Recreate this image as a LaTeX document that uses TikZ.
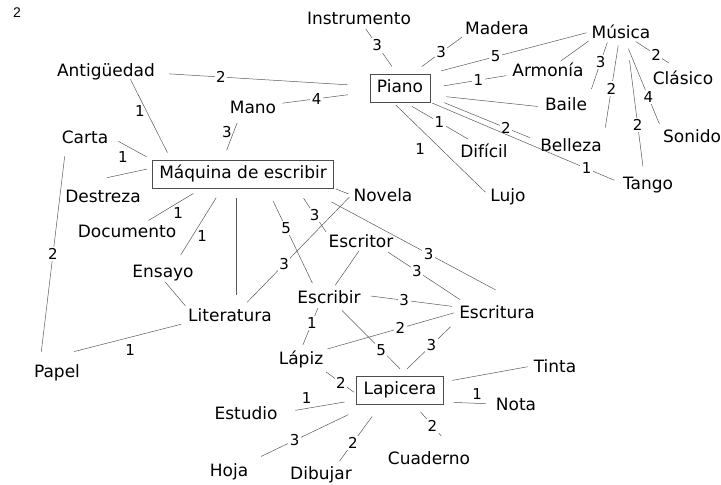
\documentclass[tikz,border=0pt]{standalone}
\usepackage{fontspec}
\newfontfamily\mapfont{DejaVu Sans}
\newfontfamily\pagefont{Liberation Sans}

\begin{document}
\begin{tikzpicture}[x=1pt,y=-1pt,
  concept/.style={font=\mapfont\fontsize{17}{20}\selectfont,inner sep=2pt,text height=12.5pt,text depth=0pt},
  box/.style={concept,draw=black!70,line width=.6pt,text depth=3pt,minimum height=28pt,inner xsep=7pt},
  link/.style={draw=black!65,line width=.5pt,shorten <=4pt,shorten >=4pt},
  num/.style={font=\mapfont\fontsize{15}{18}\selectfont,fill=white,inner sep=1.5pt},
  tag/.style={num,fill=none}]
\useasboundingbox (0,0) rectangle (721,485);
\node[font=\pagefont\fontsize{14}{16}\selectfont] (page) at (17,13) {2};
% Piano
\node[box] (piano) at (400,88) {Piano};
\node[concept] (instr) at (359,18) {Instrumento};
\node[concept] (madera) at (497,28) {Madera};
\node[concept] (musica) at (621,32) {Música};
\node[concept] (armonia) at (548,70) {Armonía};
\node[concept] (clasico) at (683,78) {Clásico};
\node[concept] (baile) at (566,104) {Baile};
\node[concept] (sonido) at (692,136) {Sonido};
\node[concept] (belleza) at (571,145) {Belleza};
\node[concept] (dificil) at (484,151) {Difícil};
\node[concept] (tango) at (648,183) {Tango};
\node[concept] (lujo) at (508,195) {Lujo};
% Maquina de escribir
\node[box] (maquina) at (243,174) {Máquina de escribir};
\node[concept] (antig) at (106,70) {Antigüedad};
\node[concept] (mano) at (253,107) {Mano};
\node[concept] (carta) at (85,137) {Carta};
\node[concept] (destreza) at (103,196) {Destreza};
\node[concept] (documento) at (127,231) {Documento};
\node[concept] (novela) at (383,195) {Novela};
\node[concept] (escritor) at (361,241) {Escritor};
\node[concept] (ensayo) at (163,271) {Ensayo};
\node[concept] (escribir) at (329,297) {Escribir};
\node[concept] (literatura) at (230,315) {Literatura};
\node[concept] (escritura) at (497,312) {Escritura};
\node[concept] (papel) at (57,371) {Papel};
% Lapicera
\node[box] (lapicera) at (400,390) {Lapicera};
\node[concept] (lapiz) at (301,358) {Lápiz};
\node[concept] (tinta) at (555,366) {Tinta};
\node[concept] (nota) at (516,404) {Nota};
\node[concept] (estudio) at (246,413) {Estudio};
\node[concept] (hoja) at (229,470) {Hoja};
\node[concept] (dibujar) at (321,473) {Dibujar};
\node[concept] (cuaderno) at (429,458) {Cuaderno};

\draw[link,shorten <=3pt,shorten >=9pt] ([xshift=5pt]instr.south) -- node[num,pos=.4] {3} ([xshift=-3pt]piano.north);
\draw[link,shorten <=1pt,shorten >=12pt] (madera.south west) -- node[num,pos=.43] {3} ([xshift=12pt]piano.north);
\draw[link,shorten <=3pt,shorten >=11pt] (musica.west) -- node[num,pos=.59] {5} (piano.north east);
\draw[link,shorten <=4pt,shorten >=14pt] ([yshift=-5pt]armonia.west) -- node[num,pos=.4] {1} (piano.east);
\draw[link,shorten <=16pt,shorten >=5pt] ([yshift=-7pt]piano.east) -- ([yshift=-3pt]baile.west);
\draw[link,shorten <=15pt,shorten >=9pt] ([yshift=-9pt]piano.east) -- node[num,pos=.7] {2} ([yshift=4pt]belleza.west);
\draw[link,shorten <=8pt,shorten >=7pt] ([xshift=5pt]piano.south) -- node[num,pos=.5] {1} ([xshift=-10pt]dificil.north);
\draw[link,shorten <=2pt,shorten >=7pt] (piano.south east) -- node[num,pos=.82] {1} (tango.west);
\draw[link] ([xshift=-7pt]piano.south) -- node[tag,pos=.5,left=14pt] {1} (lujo.west);
\draw[link,shorten <=1pt,shorten >=1pt] (musica.south west) -- ([xshift=12pt]armonia.north);
\draw[link,shorten <=2pt,shorten >=7pt] ([xshift=-13pt]musica.south) -- node[num,pos=.39] {3} (baile.north east);
\draw[link,shorten <=5pt,shorten >=9pt] ([xshift=-2pt]musica.south) -- node[num,pos=.5] {2} (belleza.north east);
\draw[link,shorten <=20pt,shorten >=8pt] ([xshift=6pt]musica.south) -- node[num,pos=.63] {2} ([xshift=-4pt]tango.north);
\draw[link,shorten <=9pt,shorten >=4pt] ([xshift=4pt]musica.south) -- node[num,pos=.65] {4} (sonido.north west);
\draw[link,shorten <=2pt,shorten >=12pt] ([xshift=13pt]musica.south) -- node[num,pos=.49] {2} ([xshift=-4pt]clasico.north);

\draw[link,shorten <=12pt,shorten >=22pt] (antig) -- node[num,pos=.3] {2} (piano);
\draw[link,shorten <=4pt,shorten >=22pt] (mano) -- node[num,pos=.42] {4} (piano);
\draw[link,shorten <=1pt,shorten >=8pt] ([xshift=24pt]antig.south) -- node[tag,left,pos=.4] {1} ([xshift=-72pt]maquina.north);
\draw[link,shorten <=8pt,shorten >=10pt] ([xshift=-13pt]mano.south) -- node[tag,left,pos=.38] {3} ([xshift=-20pt]maquina.north);
\draw[link,shorten <=9pt,shorten >=6pt] (carta.east) -- node[tag,below=6pt,pos=.3] {1} (maquina.north west);
\draw[link,shorten >=5pt] ([yshift=9pt]destreza.north) -- ([yshift=6pt]maquina.west);
\draw[link,shorten >=10pt] ([xshift=18pt]documento.north) -- node[tag,below=3pt,pos=.58] {1} ([xshift=-41pt]maquina.south);
\draw[link,shorten <=11pt,shorten >=9pt] ([xshift=-21pt]maquina.south) -- node[tag,right=3pt,pos=.64] {1} ([xshift=13pt]ensayo.north);
\draw[link,shorten <=10pt,shorten >=12pt] ([xshift=-7pt]maquina.south) -- ([xshift=6pt]literatura.north);
\draw[link,shorten <=14pt,shorten >=6pt] ([xshift=24pt]maquina.south) -- node[num,pos=.4] {5} ([xshift=-14pt]escribir.north);
\draw[link,shorten <=12pt,shorten >=1pt] ([xshift=54pt]maquina.south) -- node[num,pos=.6] {3} (escritor.north west);
\draw[link,shorten <=2pt,shorten >=3pt] (maquina.south east) -- (novela.west);
\draw[link,shorten <=29pt,shorten >=29pt] ([xshift=63pt]maquina.south) -- node[num,pos=.57] {3} ([xshift=24pt]escritura.north);
\draw[link,shorten <=3pt,shorten >=6pt] (novela.west) -- node[num,pos=.62] {3} ([xshift=13pt]literatura.north);
\draw[link,shorten <=2pt,shorten >=4pt] ([xshift=-1pt]escritor.south) -- ([xshift=4pt]escribir.north);
\draw[link,shorten <=5pt,shorten >=7pt] ([xshift=23pt]escritor.south) -- node[num,pos=.4] {3} ([xshift=-31pt]escritura.north);
\draw[link,shorten <=8pt,shorten >=5pt] ([yshift=2pt]escribir.east) -- node[num,pos=.44] {3} ([yshift=5pt]escritura.west);
\draw[link,shorten <=11pt,shorten >=11pt] ([xshift=-19pt]carta.south) -- node[num,pos=.5] {2} ([xshift=-17pt]papel.north);
\draw[link,shorten <=0pt,shorten >=5pt] ([xshift=-8pt,yshift=11pt]papel.north east) -- node[tag,below=6pt,pos=.5] {1} ([yshift=-8pt]literatura.west);
\draw[link,shorten <=3pt,shorten >=1pt] (ensayo.south) -- (literatura.north west);

\draw[link,shorten <=3pt,shorten >=5pt] ([xshift=-10pt]escribir.south) -- node[num,pos=.4] {1} (lapiz.north);
\draw[link,shorten <=7pt,shorten >=10pt] ([xshift=8pt]escribir.south) -- node[num,pos=.63] {5} ([xshift=7pt]lapicera.north);
\draw[link,shorten <=2pt,shorten >=3pt] (lapiz.north east) -- node[num,pos=.57] {2} (escritura.west);
\draw[link,shorten <=10pt,shorten >=9pt] (lapicera.north) -- node[num,pos=.55] {3} (escritura.south west);
\draw[link,shorten <=1pt,shorten >=3pt] ([yshift=-5pt]lapiz.south east) -- node[num,pos=.5] {2} ([yshift=-4pt]lapicera.west);
\draw[link,shorten <=16pt,shorten >=12pt] (estudio.east) -- node[tag,above=3pt,pos=.35] {1} ([yshift=-10pt]lapicera.west);
\draw[link,shorten <=12pt,shorten >=24pt] (hoja.north east) -- node[num,pos=.37] {3} ([xshift=-30pt]lapicera.south);
\draw[link,shorten <=4pt,shorten >=15pt] ([xshift=16pt]dibujar.north) -- node[num,pos=.36] {2} ([xshift=-19pt]lapicera.south);
\draw[link,shorten <=10pt,shorten >=18pt] ([xshift=14pt]lapicera.south) -- node[num,pos=.47] {2} ([xshift=24pt]cuaderno.north);
\draw[link,shorten <=9pt,shorten >=4pt] ([yshift=8pt]lapicera.east) -- (tinta.west);
\draw[link,shorten <=10pt,shorten >=8pt] ([yshift=-12pt]lapicera.east) -- node[tag,above=2pt,pos=.67] {1} (nota.west);
\end{tikzpicture}
\end{document}
